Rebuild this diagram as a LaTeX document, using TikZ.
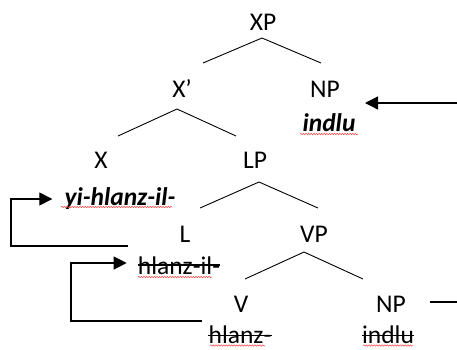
\documentclass[tikz,border=0pt]{standalone}
\usepackage{fontspec}
\setmainfont{Carlito}
\usetikzlibrary{arrows.meta,decorations.pathmorphing}
\begin{document}
\begin{tikzpicture}[x=1pt,y=-1pt,
  lbl/.style={inner sep=0pt,anchor=base,font=\fontsize{25.5}{30}\selectfont},
  word/.style={lbl,font=\fontsize{25.5}{30}\selectfont\bfseries\itshape},
  plainword/.style={lbl},
  flat/.style={text depth=0pt},
  branch/.style={line width=0.9pt},
  move/.style={line width=1.3pt,-{Triangle[length=13pt,width=13pt]}},
  struck/.style={line width=1.1pt},
  squiggle/.style={draw=red!75!white,line width=0.5pt,decorate,
    decoration={snake,amplitude=0.7pt,segment length=2.6pt}}]
\useasboundingbox (0,0) rectangle (457,349);

% labels of the tree
\node[lbl] (xp) at (263,30) {XP};
\node[lbl] (xbar) at (182,97) {X’};
\node[lbl] (nphi) at (325,97) {NP};
\node[word] (indluhi) at (329,131) {indlu};
\node[lbl] (x) at (101,168) {X};
\node[lbl] (lp) at (255,168) {LP};
\node[word] (yi) at (120,205) {yi-hlanz-il-};
\node[lbl] (l) at (185,242) {L};
\node[lbl] (vp) at (314,242) {VP};
\node[plainword] (hl) at (179,274) {hlanz-il-};
\node[lbl] (v) at (241,312) {V};
\node[lbl] (nplo) at (391,312) {NP};
\node[plainword,flat] (hlz) at (240,343) {hlanz-};
\node[plainword,flat] (indlulo) at (388,343) {indlu};

% branch points
\coordinate (xpA) at (262,38);  \coordinate (xpL) at (203,63);  \coordinate (xpR) at (321,63);
\coordinate (xbA) at (177,109); \coordinate (xbL) at (118,136); \coordinate (xbR) at (236,136);
\coordinate (lpA) at (259,182); \coordinate (lpL) at (200,208); \coordinate (lpR) at (318,208);
\coordinate (vpA) at (304,252); \coordinate (vpL) at (245,279); \coordinate (vpR) at (363,279);

\draw[branch] (xpL) -- (xpA) -- (xpR);
\draw[branch] (xbL) -- (xbA) -- (xbR);
\draw[branch] (lpL) -- (lpA) -- (lpR);
\draw[branch] (vpL) -- (vpA) -- (vpR);

% deleted copies
\draw[struck] ([yshift=9pt]hl.base west) -- ([yshift=9pt]hl.base east);
\draw[struck] ([yshift=7.5pt]hlz.base west) -- ([yshift=7.5pt]hlz.base east);
\draw[struck] ([yshift=7.5pt]indlulo.base west) -- ([yshift=7.5pt]indlulo.base east);

% spell-check underlines
\draw[squiggle] (300,134) -- (358,134);
\draw[squiggle] (61,207) -- (172,207);
\draw[squiggle] (138,277) -- (212,277);
\draw[squiggle] (210,345.5) -- (265,345.5);
\draw[squiggle] (363,345.5) -- (413,345.5);

% movement arrows
\coordinate (objsrc) at (457,103);
\coordinate (objtgt) at (365,103);
\draw[move] (objsrc) -- (objtgt);

\coordinate (lfoot) at (128,246);
\draw[move] (lfoot) -- (11,246) |- ([xshift=-12pt]yi.west |- 0,199);

\coordinate (vfoot) at (202,321);
\draw[move] (vfoot) -- (71,321) |- ([xshift=-11pt]hl.west |- 0,263);

\coordinate (objtail) at (457,302);
\draw[line width=1.1pt] ([xshift=24pt]nplo.base east |- 0,302) -- (objtail);
\end{tikzpicture}
\end{document}
